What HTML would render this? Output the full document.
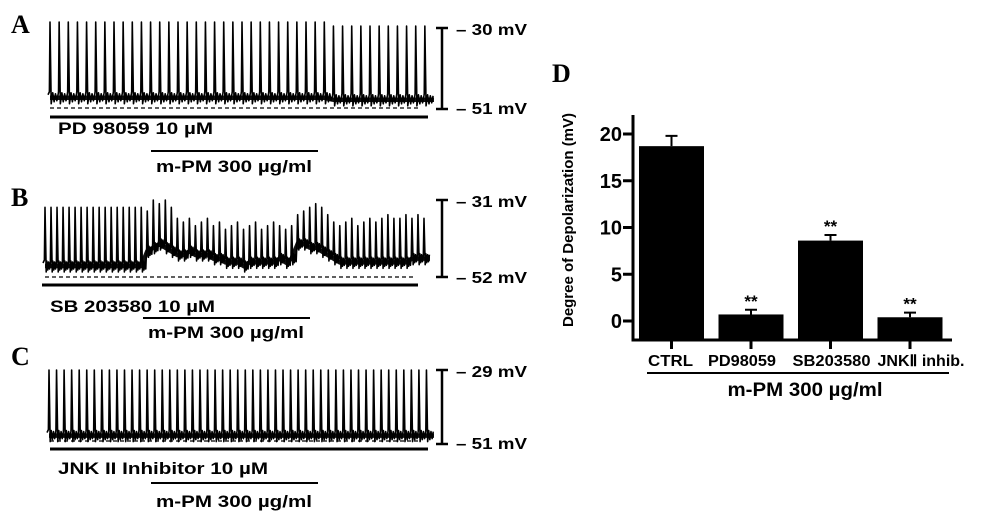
<!DOCTYPE html>
<html><head><meta charset="utf-8"><style>
body{margin:0;background:#fff;}
svg{display:block;font-family:"Liberation Sans",sans-serif;}
.b{font-weight:bold;}
.ser{font-family:"Liberation Serif",serif;font-weight:bold;font-size:26px;}
</style></head><body>
<svg id="fig" width="1004" height="523" viewBox="0 0 1004 523">
<g id="traces"></g>
<text class="ser" x="11" y="33">A</text>
<text class="ser" x="11" y="206">B</text>
<text class="ser" x="11" y="365">C</text>
<text class="ser" x="552" y="82">D</text>
<g class="b" font-size="17">
<line x1="442" y1="28" x2="442" y2="109" stroke="#000" stroke-width="2.5"/>
<line x1="436" y1="28" x2="448" y2="28" stroke="#000" stroke-width="2.5"/>
<line x1="436" y1="109" x2="448" y2="109" stroke="#000" stroke-width="2.5"/>
<text x="456" y="35" font-size="16" textLength="71" lengthAdjust="spacingAndGlyphs">– 30 mV</text>
<text x="456" y="114" font-size="16" textLength="71" lengthAdjust="spacingAndGlyphs">– 51 mV</text>
<line x1="50" y1="117" x2="428" y2="117" stroke="#000" stroke-width="3"/>
<text x="58" y="134" textLength="155" lengthAdjust="spacingAndGlyphs">PD 98059 10 µM</text>
<line x1="151" y1="151" x2="318" y2="151" stroke="#000" stroke-width="2"/>
<text x="156" y="172" textLength="156" lengthAdjust="spacingAndGlyphs">m-PM 300 µg/ml</text>
</g>
<g class="b" font-size="17">
<line x1="442" y1="200" x2="442" y2="277" stroke="#000" stroke-width="2.5"/>
<line x1="436" y1="200" x2="448" y2="200" stroke="#000" stroke-width="2.5"/>
<line x1="436" y1="277" x2="448" y2="277" stroke="#000" stroke-width="2.5"/>
<text x="456" y="207" font-size="16" textLength="71" lengthAdjust="spacingAndGlyphs">– 31 mV</text>
<text x="456" y="283" font-size="16" textLength="71" lengthAdjust="spacingAndGlyphs">– 52 mV</text>
<line x1="42" y1="285" x2="418" y2="285" stroke="#000" stroke-width="3"/>
<text x="50" y="312" textLength="165" lengthAdjust="spacingAndGlyphs">SB 203580 10 µM</text>
<line x1="143" y1="318" x2="310" y2="318" stroke="#000" stroke-width="2"/>
<text x="148" y="338" textLength="156" lengthAdjust="spacingAndGlyphs">m-PM 300 µg/ml</text>
</g>
<g class="b" font-size="17">
<line x1="442" y1="370" x2="442" y2="444" stroke="#000" stroke-width="2.5"/>
<line x1="436" y1="370" x2="448" y2="370" stroke="#000" stroke-width="2.5"/>
<line x1="436" y1="444" x2="448" y2="444" stroke="#000" stroke-width="2.5"/>
<text x="456" y="377" font-size="16" textLength="71" lengthAdjust="spacingAndGlyphs">– 29 mV</text>
<text x="456" y="449" font-size="16" textLength="71" lengthAdjust="spacingAndGlyphs">– 51 mV</text>
<line x1="50" y1="449" x2="428" y2="449" stroke="#000" stroke-width="3"/>
<text x="58" y="474" textLength="210" lengthAdjust="spacingAndGlyphs">JNK II Inhibitor 10 µM</text>
<line x1="151" y1="483" x2="318" y2="483" stroke="#000" stroke-width="2"/>
<text x="156" y="507" textLength="156" lengthAdjust="spacingAndGlyphs">m-PM 300 µg/ml</text>
</g>
<g id="chartD"></g>
</svg>
<script>
const NS="http://www.w3.org/2000/svg";
// ---- chart D data ----
const categories=["CTRL","PD98059","SB203580","JNK\u2161 inhib."];
const meanValues=[18.7,0.7,8.6,0.4];
const errorValues=[1.1,0.5,0.6,0.5];
const sigMarks=["","**","**","**"];
const yTicks=[0,5,10,15,20];
// ---- trace data (mV) ----
const tracePeaksA=[-30,-30,-30,-30,-30,-30,-30,-30,-30,-30,-30,-30,-30,-30,-30,-30,-30,-30,-30,-30,-30,-30,-30,-30,-30,-30,-30,-30,-30,-30,-30,-31,-31,-31,-31,-31,-31,-31,-31,-31,-31,-31];
const traceBasesA=[-48.5,-48.5,-48.5,-48.5,-48.5,-48.5,-48.5,-48.5,-48.5,-48.5,-48.5,-48.5,-48.5,-48.5,-48.5,-48.5,-48.5,-48.5,-48.5,-48.5,-48.5,-48.5,-48.5,-48.5,-48.5,-48.5,-48.5,-48.5,-48.5,-48.5,-48.5,-49,-49,-49,-49,-49,-49,-49,-49,-49,-49,-49];
const tracePeaksB=[-33,-33,-33,-33,-33,-33,-33,-33,-33,-33,-33,-33,-33,-33,-33,-33,-33,-34,-31,-32,-31,-33,-36,-37,-36,-38,-37,-36,-38,-37,-39,-38,-37,-39,-38,-37,-39,-38,-37,-38,-39,-38,-35,-34,-33,-32,-33,-35,-37,-38,-37,-36,-38,-37,-36,-37,-36,-35,-36,-36,-35,-36,-35,-36];
const traceBasesB=[-49,-49,-49,-49,-49,-49,-49,-49,-49,-49,-49,-49,-49,-49,-49,-49,-49,-45,-44,-43,-44,-45,-46,-46,-45,-46,-46,-46,-47,-47,-48,-48,-48,-49,-48,-48,-48,-48,-48,-47,-48,-47,-43,-43,-44,-44,-45,-46,-47,-48,-48,-48,-48,-48,-48,-48,-48,-48,-48,-48,-48,-47,-47,-47];
const tracePeaksC=[-29,-29,-29,-29,-29,-29,-29,-29,-29,-29,-29,-29,-29,-29,-29,-29,-29,-29,-29,-29,-29,-29,-29,-29,-29,-29,-29,-29,-29,-29,-29,-29,-29,-29,-29,-29,-29,-29,-29,-29,-29,-29,-29,-29,-29,-29,-29,-29,-29,-29,-29];
const traceBasesC=[-48.5,-48.5,-48.5,-48.5,-48.5,-48.5,-48.5,-48.5,-48.5,-48.5,-48.5,-48.5,-48.5,-48.5,-48.5,-48.5,-48.5,-48.5,-48.5,-48.5,-48.5,-48.5,-48.5,-48.5,-48.5,-48.5,-48.5,-48.5,-48.5,-48.5,-48.5,-48.5,-48.5,-48.5,-48.5,-48.5,-48.5,-48.5,-48.5,-48.5,-48.5,-48.5,-48.5,-48.5,-48.5,-48.5,-48.5,-48.5,-48.5,-48.5,-48.5];

function mk(tag,attrs,parent){const e=document.createElementNS(NS,tag);for(const k in attrs)e.setAttribute(k,attrs[k]);parent.appendChild(e);return e;}

function drawTrace(name,peaks,bases,x0,x1,yTop,mvTop,yBot,mvBot,dashY,dashX0,dashX1){
  const g=document.getElementById("traces");
  const ym=v=>yBot+(v-mvBot)*(yTop-yBot)/(mvTop-mvBot);
  const n=peaks.length,per=(x1-x0)/n;
  let d="",band="";
  for(let i=0;i<n;i++){
    const xs=x0+i*per+2;
    const b=ym(bases[i]);
    const bn=ym(bases[Math.min(i+1,n-1)]);
    if(i===0)d+="M"+(x0)+","+(b-3);
    d+=" L"+(xs-0.6)+","+(b-6)+" L"+xs+","+ym(peaks[i])+" L"+(xs+1.2)+","+(b+6)+" L"+(xs+per*0.3)+","+(b-5)+" L"+(xs+per*0.45)+","+(b+4)+" L"+(xs+per*0.6)+","+(b-4)+" L"+(xs+per*0.75)+","+(b+3)+" L"+(xs+per*0.9)+","+(bn-4);
    band+=(i===0?"M":" L")+xs+","+b+" L"+(xs+per)+","+bn;
  }
  const bp=mk("path",{d:band,fill:"none",stroke:"#111","stroke-width":"4.5"},g);
  
  
  const p=mk("path",{d:d,fill:"none",stroke:"#000","stroke-width":"1.6","stroke-linejoin":"round"},g);
  
  
  const dl=mk("line",{x1:dashX0,y1:dashY,x2:dashX1,y2:dashY,stroke:"#000","stroke-width":"1.2","stroke-dasharray":"4 3"},g);
  
  
}
drawTrace("trace-a",tracePeaksA,traceBasesA,48,432,22,-30,108,-51,108,50,420);
drawTrace("trace-b",tracePeaksB,traceBasesB,43,428,200,-31,277,-52,277,45,415);
drawTrace("trace-c",tracePeaksC,traceBasesC,47,432,370,-29,444,-51,441,50,420);

// ---- chart D ----
(function(){
  const g=document.getElementById("chartD");
  const axX=633,axTop=115,axBot=340,axRight=952;
  const y=v=>321-v*(321-134)/20;
  const bandL=636,bandW=79.5,barW=65;
  const cx=i=>bandL+bandW*i+barW/2+3;
  yTicks.forEach(t=>{
    const tk=mk("line",{x1:axX-10,x2:axX,y1:y(t),y2:y(t),stroke:"#000","stroke-width":"3"},g);
    
    
    const tl=mk("text",{x:622,y:y(t)+7,"text-anchor":"end","font-size":"20","font-weight":"bold"},g);
    tl.textContent=t;
    
    
  });
  const xl=[45,68,78,87];
  const xoff=[-1,-9,1,11];
  categories.forEach((c,i)=>{
    const x=cx(i);
    const eb=mk("path",{d:`M${x},${y(meanValues[i])} L${x},${y(meanValues[i]+errorValues[i])} M${x-6},${y(meanValues[i]+errorValues[i])} L${x+6},${y(meanValues[i]+errorValues[i])}`,stroke:"#000","stroke-width":"2",fill:"none"},g);
    
    
    const r=mk("rect",{x:x-barW/2,y:y(meanValues[i]),width:barW,height:axBot-y(meanValues[i]),fill:"#000"},g);
    
    
    const tk=mk("line",{x1:x,x2:x,y1:axBot,y2:axBot+9,stroke:"#000","stroke-width":"3"},g);
    
    
    const tl=mk("text",{x:x+xoff[i],y:366,"text-anchor":"middle","font-size":"16","font-weight":"bold",textLength:xl[i],lengthAdjust:"spacingAndGlyphs"},g);
    tl.textContent=c;
    
    
    if(sigMarks[i]){
      const s=mk("text",{x:x,y:y(meanValues[i]+errorValues[i])-3,"text-anchor":"middle","font-size":"17","font-weight":"bold"},g);
      s.textContent=sigMarks[i];
      
      
    }
  });
  const ax=mk("path",{d:`M${axX},${axTop} L${axX},${axBot} L${axRight},${axBot}`,fill:"none",stroke:"#000","stroke-width":"3"},g);
  
  
  const yt=mk("text",{x:0,y:0,transform:"translate(573,220) rotate(-90)","text-anchor":"middle","font-size":"15","font-weight":"bold",textLength:"214",lengthAdjust:"spacingAndGlyphs"},g);
  yt.textContent="Degree of Depolarization  (mV)";
  
  
  const gl=mk("line",{x1:647,x2:949,y1:373,y2:373,stroke:"#000","stroke-width":"2"},g);
  
  
  const gt=mk("text",{x:805,y:396,"text-anchor":"middle","font-size":"19","font-weight":"bold",textLength:"155",lengthAdjust:"spacingAndGlyphs"},g);
  gt.textContent="m-PM 300 µg/ml";
  
  
})();
</script>
</body></html>
